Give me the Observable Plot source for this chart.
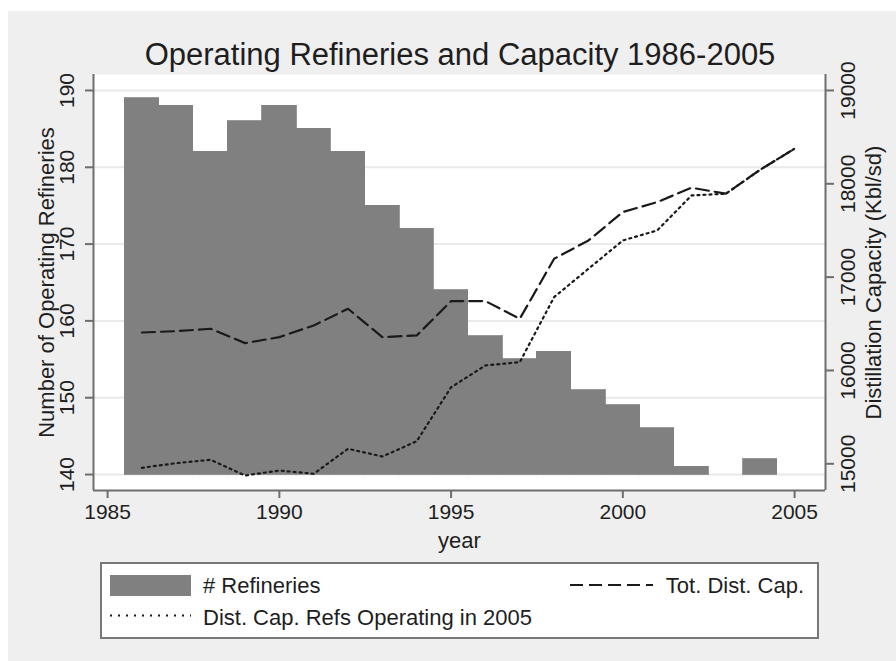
<!DOCTYPE html>
<html>
<head>
<meta charset="utf-8">
<script src="https://cdn.jsdelivr.net/npm/d3@7"></script>
<script src="https://cdn.jsdelivr.net/npm/@observablehq/plot@0.6"></script>
<style>
  html, body { margin: 0; padding: 0; background: #fff; }
  #page { position: relative; width: 896px; height: 661px; overflow: hidden;
          font-family: "Liberation Sans", Arial, Helvetica, sans-serif; color: #1e1e1e; }
  #bg { position: absolute; left: 8px; top: 11px; right: 0; bottom: 0; background: #efefef; }
  .layer { position: absolute; left: 0; top: 0; }
  #title { position: absolute; left: 93px; width: 734px; top: 40px; line-height: 30px;
           text-align: center; font-size: 31px; white-space: nowrap; }
</style>
</head>
<body>
<div id="page">
  <div id="bg"></div>
  <div id="title">Operating Refineries and Capacity 1986-2005</div>
</div>
<script>
// Yearly figures, 1986-2005
const years = [1986, 1987, 1988, 1989, 1990, 1991, 1992, 1993, 1994, 1995,
               1996, 1997, 1998, 1999, 2000, 2001, 2002, 2003, 2004, 2005];
// number of operating refineries (no bar drawn for missing years)
const refineries = [189, 188, 182, 186, 188, 185, 182, 175, 172, 164,
                    158, 155, 156, 151, 149, 146, 141, null, 142, null];
// total distillation capacity, Kbl/sd
const totalCapacity = [16407, 16421, 16447, 16293, 16357, 16482, 16661, 16357, 16375, 16743,
                       16743, 16554, 17197, 17393, 17697, 17804, 17958, 17894, 18151, 18376];
// capacity of the refineries still operating in 2005, Kbl/sd
const capacity2005Refs = [14957, 15007, 15043, 14875, 14928, 14893, 15161, 15078, 15242, 15820,
                          16054, 16089, 16786, 17090, 17393, 17500, 17875, 17894, 18151, 18376];

const yearTicks = [1985, 1990, 1995, 2000, 2005];
const countTicks = [140, 150, 160, 170, 180, 190];
const capacityTicks = [15000, 16000, 17000, 18000, 19000];
const barBase = 140;

const legendLabels = ["# Refineries", "Dist. Cap. Refs Operating in 2005", "Tot. Dist. Cap."];

const W = 896, H = 661;
const M = {top: 74, right: 71, bottom: 171, left: 93};
const xDomain = [1984.59, 2005.9];
const countDomain = [137.92, 192.08];
const capacityDomain = [14714, 19171];

const font = "Liberation Sans, Arial, Helvetica, sans-serif";
const ink = "#1e1e1e";
const axisInk = "#6e6e6e";
const barFill = "#808080";
const lineInk = "#1a1a1a";

const bars = years.map((year, i) => ({year, n: refineries[i]})).filter(d => d.n != null);
const caps = years.map((year, i) => ({year, total: totalCapacity[i], ops: capacity2005Refs[i]}));

const common = {
  width: W, height: H,
  marginTop: M.top, marginRight: M.right, marginBottom: M.bottom, marginLeft: M.left,
  style: {background: "transparent", fontFamily: font, color: ink, overflow: "visible"},
  x: {domain: xDomain, axis: null}
};

// Left scale: refinery counts as bars, with the x axis
const countPlot = Plot.plot({
  ...common,
  y: {domain: countDomain, axis: null},
  marks: [
    Plot.frame({fill: "#fff", stroke: "none"}),
    Plot.gridY(countTicks, {stroke: "#e9e9e9", strokeWidth: 2, strokeOpacity: 1}),
    Plot.rect(bars, {x1: d => d.year - 0.5, x2: d => d.year + 0.5, y1: barBase, y2: "n",
                     fill: barFill, stroke: barFill, strokeWidth: 0.8, shapeRendering: "crispEdges"}),
    Plot.ruleX([xDomain[0]], {stroke: axisInk, strokeWidth: 2}),
    Plot.ruleY([countDomain[0]], {stroke: axisInk, strokeWidth: 2}),
    Plot.axisX({ticks: yearTicks, tickSize: 8, tickPadding: 6, fontSize: 21, stroke: axisInk,
                strokeWidth: 2, fill: ink, label: null, tickFormat: d => String(d)}),
    Plot.axisY({ticks: countTicks, tickSize: 8, tickPadding: 18, tickRotate: -90,
                textAnchor: "middle", lineAnchor: "middle", fontSize: 21, stroke: axisInk,
                strokeWidth: 2, fill: ink, label: null, tickFormat: d => String(d)}),
    Plot.text(["year"], {text: d => d, frameAnchor: "bottom", dy: 50, fontSize: 22, fill: ink,
                textAnchor: "middle", lineAnchor: "middle"}),
    Plot.text(["Number of Operating Refineries"], {text: d => d, frameAnchor: "left", dx: -47,
                rotate: -90, fontSize: 22, fill: ink, textAnchor: "middle", lineAnchor: "middle"})
  ]
});

// Right scale: distillation capacity lines
const capacityPlot = Plot.plot({
  ...common,
  y: {domain: capacityDomain, axis: null},
  marks: [
    Plot.line(caps, {x: "year", y: "total", stroke: lineInk, strokeWidth: 2.2, strokeDasharray: "13,6"}),
    Plot.line(caps, {x: "year", y: "ops", stroke: lineInk, strokeWidth: 2.2, strokeDasharray: "2,4"}),
    Plot.ruleX([xDomain[1]], {stroke: axisInk, strokeWidth: 2}),
    Plot.axisY({anchor: "right", ticks: capacityTicks, tickSize: 8, tickPadding: 15, tickRotate: -90,
                textAnchor: "middle", lineAnchor: "middle", fontSize: 21, stroke: axisInk,
                strokeWidth: 2, fill: ink, label: null, tickFormat: d => String(d)}),
    Plot.text(["Distillation Capacity (Kbl/sd)"], {text: d => d, frameAnchor: "right", dx: 48,
                rotate: -90, fontSize: 22, fill: ink, textAnchor: "middle", lineAnchor: "middle"})
  ]
});

const page = document.getElementById("page");
const title = document.getElementById("title");
for (const svg of [countPlot, capacityPlot]) {
  svg.classList.add("layer");
  page.insertBefore(svg, title);
}

// Legend box beneath the plot
const legend = d3.select(page).append("svg")
  .attr("class", "layer").attr("width", W).attr("height", H)
  .style("font-family", font).style("font-size", "22px");
legend.append("rect").attr("x", 101).attr("y", 563).attr("width", 717).attr("height", 75)
  .attr("fill", "#fff").attr("stroke", "#777").attr("stroke-width", 2);
legend.append("rect").attr("x", 110).attr("y", 575).attr("width", 81).attr("height", 21).attr("fill", barFill);
legend.append("text").attr("x", 203).attr("y", 592.5).attr("fill", ink).text(legendLabels[0]);
legend.append("line").attr("x1", 110).attr("x2", 191).attr("y1", 615.5).attr("y2", 615.5)
  .attr("stroke", lineInk).attr("stroke-width", 2).attr("stroke-dasharray", "2,6");
legend.append("text").attr("x", 203).attr("y", 625).attr("fill", ink).text(legendLabels[1]);
legend.append("line").attr("x1", 570).attr("x2", 653).attr("y1", 585).attr("y2", 585)
  .attr("stroke", lineInk).attr("stroke-width", 2).attr("stroke-dasharray", "13,6");
legend.append("text").attr("x", 804).attr("y", 593).attr("text-anchor", "end").attr("fill", ink).text(legendLabels[2]);
</script>
</body>
</html>
